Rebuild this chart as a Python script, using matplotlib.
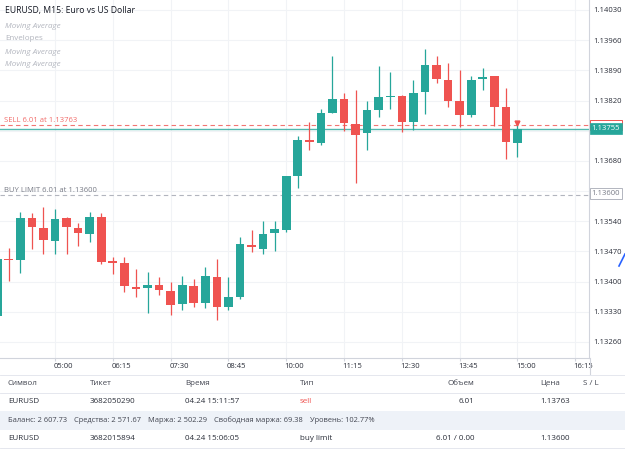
import matplotlib
matplotlib.use('Agg')
import matplotlib.pyplot as plt
from matplotlib.patches import Rectangle
from matplotlib.lines import Line2D

plt.rcParams['font.family'] = ['Open Sans', 'DejaVu Sans']

# ---------------- data ----------------
bar_index = list(range(-5, 41))   # 15-minute bars, 0 = 05:00
opens = [1.13320, 1.13452, 1.13449, 1.13547, 1.13525, 1.13495, 1.13547, 1.13525, 1.13510, 1.13549,
         1.13445, 1.13444, 1.13387, 1.13386, 1.13391, 1.13378, 1.13348, 1.13390, 1.13351, 1.13410,
         1.13342, 1.13363, 1.13485, 1.13475, 1.13513, 1.13520, 1.13645, 1.13728, 1.13722, 1.13792,
         1.13823, 1.13766, 1.13744, 1.13798, 1.13828, 1.13831, 1.13771, 1.13839, 1.13902, 1.13868,
         1.13819, 1.13787, 1.13869, 1.13877, 1.13806, 1.13721]
highs = [1.13457, 1.13478, 1.13562, 1.13558, 1.13572, 1.13568, 1.13550, 1.13536, 1.13562, 1.13558,
         1.13458, 1.13458, 1.13429, 1.13421, 1.13410, 1.13398, 1.13413, 1.13407, 1.13434, 1.13452,
         1.13411, 1.13504, 1.13520, 1.13540, 1.13540, 1.13645, 1.13738, 1.13771, 1.13800, 1.13923,
         1.13837, 1.13844, 1.13819, 1.13901, 1.13885, 1.13833, 1.13868, 1.13940, 1.13923, 1.13908,
         1.13891, 1.13877, 1.13895, 1.13878, 1.13848, 1.13763]
lows = [1.13315, 1.13401, 1.13419, 1.13475, 1.13465, 1.13465, 1.13463, 1.13482, 1.13492, 1.13441,
        1.13418, 1.13375, 1.13365, 1.13328, 1.13369, 1.13322, 1.13334, 1.13342, 1.13338, 1.13311,
        1.13334, 1.13359, 1.13469, 1.13464, 1.13472, 1.13516, 1.13616, 1.13705, 1.13717, 1.13791,
        1.13750, 1.13628, 1.13705, 1.13781, 1.13800, 1.13748, 1.13752, 1.13789, 1.13860, 1.13806,
        1.13758, 1.13781, 1.13844, 1.13761, 1.13684, 1.13688]
closes = [1.13452, 1.13450, 1.13547, 1.13527, 1.13496, 1.13545, 1.13527, 1.13512, 1.13549, 1.13445,
          1.13444, 1.13390, 1.13382, 1.13391, 1.13380, 1.13346, 1.13391, 1.13351, 1.13414, 1.13342,
          1.13363, 1.13487, 1.13479, 1.13511, 1.13521, 1.13645, 1.13728, 1.13723, 1.13792, 1.13823,
          1.13767, 1.13740, 1.13798, 1.13829, 1.13830, 1.13771, 1.13837, 1.13902, 1.13869, 1.13819,
          1.13787, 1.13868, 1.13874, 1.13806, 1.13724, 1.13755]

time_ticks = [0, 5, 10, 15, 20, 25, 30, 35, 40, 45]
time_labels = ['05:00', '06:15', '07:30', '08:45', '10:00', '11:15', '12:30', '13:45', '15:00', '16:15']
price_ticks = [1.14030, 1.13960, 1.13890, 1.13820, 1.13750, 1.13680, 1.13610, 1.13540,
               1.13470, 1.13400, 1.13330, 1.13260]

current_price = 1.13755
sell_price = 1.13763
buy_limit_price = 1.13600
sell_bar = 40

title = 'EURUSD, M15: Euro vs US Dollar'
indicators = ['Moving Average', 'Envelopes', 'Moving Average', 'Moving Average']
indicator_italic = [True, False, True, True]

table_header = ['Символ', 'Тикет', 'Время', 'Тип', 'Объем', 'Цена', 'S / L']
row1 = ['EURUSD', '3682050290', '04.24 15:11:57', 'sell', '6.01', '1.13763', '']
account = ['Баланс: 2 607.73', 'Средства: 2 571.67', 'Маржа: 2 502.29',
           'Свободная маржа: 69.38', 'Уровень: 102.77%']
row3 = ['EURUSD', '3682015894', '04.24 15:06:05', 'buy limit', '6.01 / 0.00', '1.13600', '']

# ---------------- styling ----------------
UP = '#26a69a'
DOWN = '#ef5350'
GRID = '#f1f3f6'
TXT = '#2a2e39'
GREY = '#787b86'
LIGHT = '#b2b5be'
W, H = 625, 449


def fx(x):
    return x / W


def fy(y):
    return 1 - y / H


fig = plt.figure(figsize=(W / 100, H / 100), dpi=100)
fig.patch.set_facecolor('white')
ax = fig.add_axes([0, (H - 358) / H, 589 / W, 358 / H])

ax.set_xlim(-4.76, 46.19)
ax.set_ylim(1.132226, 1.140532)

# grid
for t in time_ticks:
    ax.axvline(t, color=GRID, lw=0.8, zorder=0)
for p in price_ticks:
    ax.axhline(p, color=GRID, lw=0.8, zorder=0)

# candles
body_w = 0.75
for i, o, h, l, c in zip(bar_index, opens, highs, lows, closes):
    col = UP if c >= o else DOWN
    ax.vlines(i, l, h, color=col, lw=0.9, zorder=2)
    bottom = min(o, c)
    height = max(abs(c - o), 0.00003)
    ax.bar(i, height, bottom=bottom, width=body_w, color=col, edgecolor='none', zorder=3)

# order lines
ax.axhline(sell_price, color=DOWN, lw=0.8, ls=(0, (4, 3)), alpha=0.8, zorder=1)
ax.axhline(current_price, color=UP, lw=1.0, alpha=0.8, zorder=1)
ax.axhline(buy_limit_price, color='#b2b5be', lw=0.8, ls=(0, (4, 3)), zorder=1)
ax.plot([sell_bar], [sell_price + 0.00005], marker='v', color=DOWN, markersize=3.5, zorder=4)

ax.text(0.007, sell_price + 0.00003, 'SELL 6.01 at 1.13763', transform=ax.get_yaxis_transform(),
        fontsize=5.5, color=DOWN, alpha=0.85, va='bottom', ha='left')
ax.text(0.007, buy_limit_price + 0.00003, 'BUY LIMIT 6.01 at 1.13600', transform=ax.get_yaxis_transform(),
        fontsize=5.5, color=GREY, va='bottom', ha='left')

# axes styling
for s in ['top', 'left']:
    ax.spines[s].set_visible(False)
ax.spines['right'].set_color('#d1d4dc')
ax.spines['bottom'].set_color('#d1d4dc')
ax.spines['right'].set_linewidth(0.8)
ax.spines['bottom'].set_linewidth(0.8)
ax.yaxis.tick_right()
ax.set_yticks(price_ticks)
ax.set_yticklabels(['%.5f' % p for p in price_ticks])
ax.tick_params(axis='y', length=0, pad=3, labelsize=5.5, labelcolor=TXT)
# hide tick labels that sit under the price boxes
for lab, p in zip(ax.get_yticklabels(), price_ticks):
    if abs(p - buy_limit_price) < 0.0002 or abs(p - current_price) < 0.0002:
        lab.set_visible(False)
ax.set_xticks(time_ticks)
ax.set_xticklabels([])
ax.tick_params(axis='x', length=2.5, color='#d1d4dc')

for t, lab in zip(time_ticks, time_labels):
    ax.text(t + 0.72, -0.025, lab, transform=ax.get_xaxis_transform(), fontsize=5.5,
            color=TXT, ha='center', va='center', clip_on=False)

# legend block
fig.text(fx(5), fy(11), title, fontsize=6.2, color='#131722', va='center', ha='left')
for k, (name, it) in enumerate(zip(indicators, indicator_italic)):
    fig.text(fx(5), fy(26 + 13 * k), name, fontsize=5.8, color=LIGHT, va='center', ha='left',
             style='italic' if it else 'normal')

# price labels on right axis
fig.add_artist(Rectangle((fx(590), fy(129.5)), fx(32), 9.5 / H, transform=fig.transFigure,
                         facecolor='white', edgecolor=DOWN, lw=0.7, zorder=5))
fig.add_artist(Rectangle((fx(590), fy(134)), fx(32), 10.5 / H, transform=fig.transFigure,
                         facecolor=UP, edgecolor=UP, lw=0.5, zorder=6))
fig.text(fx(606), fy(128.8), '%.5f' % current_price, fontsize=5.5, color='white',
         ha='center', va='center', zorder=7)
fig.add_artist(Rectangle((fx(590), fy(199)), fx(32), 11 / H, transform=fig.transFigure,
                         facecolor='white', edgecolor='#b2b5be', lw=0.7, zorder=5))
fig.text(fx(606), fy(193.5), '%.5f' % buy_limit_price, fontsize=5.5, color=GREY,
         ha='center', va='center', zorder=7)
fig.add_artist(Line2D([fx(619), fx(625)], [fy(266), fy(254)], transform=fig.transFigure,
                      color='#2962ff', lw=1.2, zorder=6))

# separators under time axis
fig.add_artist(Line2D([fx(589.5), fx(589.5)], [fy(358), fy(374)], transform=fig.transFigure,
                      color='#d1d4dc', lw=0.8))
for yy in [374.5, 392.5, 447.5]:
    fig.add_artist(Line2D([0, 1], [fy(yy), fy(yy)], transform=fig.transFigure,
                          color='#e0e3eb', lw=0.6))
fig.add_artist(Rectangle((0, fy(429.5)), 1, 18.5 / H, transform=fig.transFigure,
                         facecolor='#eef2f8', edgecolor='none', zorder=0))

# table
col_x = [8, 90, 185, 300, 474, 540, 583]
col_ha = ['left', 'left', 'left', 'left', 'right', 'left', 'left']
for x, txt, ha in zip(col_x, table_header, col_ha):
    fig.text(fx(x), fy(383.5), txt, fontsize=5.8, color='#434651', ha=ha, va='center')
for k, (x, txt, ha) in enumerate(zip(col_x, row1, col_ha)):
    if txt:
        fig.text(fx(x), fy(401.5), txt, fontsize=5.8, color=DOWN if k == 3 else TXT, ha=ha, va='center')
for k, (x, txt, ha) in enumerate(zip(col_x, row3, col_ha)):
    if txt:
        fig.text(fx(x), fy(438.5), txt, fontsize=5.8, color=TXT, ha=ha, va='center')

# account summary row, laid out one after another
renderer = fig.canvas.get_renderer()
x_cursor = 8
for txt in account:
    t = fig.text(fx(x_cursor), fy(420), txt, fontsize=5.4, color='#434651', ha='left', va='center')
    bb = t.get_window_extent(renderer=renderer)
    x_cursor += bb.width + 7

fig.savefig('out.png', dpi=100)
